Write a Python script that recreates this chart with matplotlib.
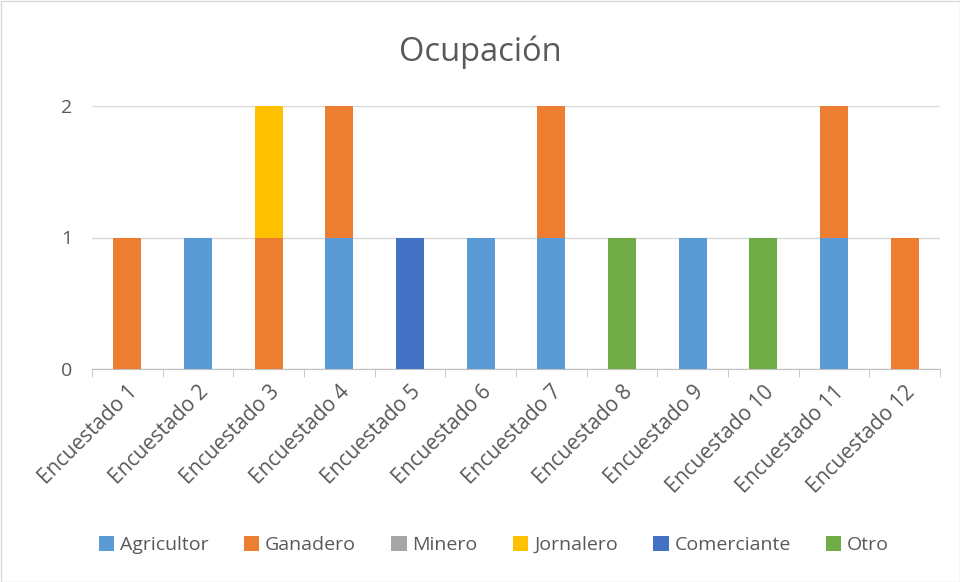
import numpy as np
import matplotlib.pyplot as plt
from matplotlib.patches import Rectangle

plt.rcParams['font.family'] = ['Open Sans', 'DejaVu Sans']

encuestados = ["Encuestado %d" % i for i in range(1, 13)]
agricultor = [0, 1, 0, 1, 0, 1, 1, 0, 1, 0, 1, 0]
ganadero = [1, 0, 1, 1, 0, 0, 1, 0, 0, 0, 1, 1]
minero = [0, 0, 0, 0, 0, 0, 0, 0, 0, 0, 0, 0]
jornalero = [0, 0, 1, 0, 0, 0, 0, 0, 0, 0, 0, 0]
comerciante = [0, 0, 0, 0, 1, 0, 0, 0, 0, 0, 0, 0]
otro = [0, 0, 0, 0, 0, 0, 0, 1, 0, 1, 0, 0]

series = [("Agricultor", agricultor, "#5B9BD5"),
          ("Ganadero", ganadero, "#ED7D31"),
          ("Minero", minero, "#A5A5A5"),
          ("Jornalero", jornalero, "#FFC000"),
          ("Comerciante", comerciante, "#4472C4"),
          ("Otro", otro, "#70AD47")]

fig = plt.figure(figsize=(9.6, 5.82), dpi=100)
ax = fig.add_axes([92/960, 1 - 369/582, 848/960, 263/582])

x = np.arange(len(encuestados))
bottom = np.zeros(len(x))
for nombre, vals, color in series:
    ax.bar(x, vals, width=0.4, bottom=bottom, color=color, label=nombre, zorder=3)
    bottom += np.array(vals)

ax.set_xlim(-0.5, len(x) - 0.5)
ax.set_ylim(0, 2)
ax.set_yticks([0, 1, 2])
ax.yaxis.grid(True, color="#D9D9D9", linewidth=1, zorder=0)
for s in ["top", "right", "left"]:
    ax.spines[s].set_visible(False)
ax.spines["bottom"].set_color("#BFBFBF")
ax.tick_params(axis="y", length=0, labelsize=14, labelcolor="#595959", pad=14)

ax.set_xticks(x)
ax.set_xticklabels(encuestados, rotation=45, ha="right", rotation_mode="anchor",
                   fontsize=15, color="#595959")
ax.tick_params(axis="x", length=0, pad=9)
ax.set_xticks(np.arange(-0.5, len(x)), minor=True)
ax.tick_params(axis="x", which="minor", length=6, color="#BFBFBF")

fig.text(0.5, 1 - 52/582, "Ocupación", ha="center", va="center", fontsize=23.5, color="#595959")

fig.legend(loc="center", bbox_to_anchor=(494/960, 1 - 545/582), ncol=6, frameon=False,
           fontsize=14, handlelength=0.8, handleheight=0.8, handletextpad=0.3,
           columnspacing=1.8, labelcolor="#595959")

fig.patches.append(Rectangle((0.5/960, 0.5/582), 1 - 1/960, 1 - 1/582, transform=fig.transFigure,
                             fill=False, edgecolor="#D9D9D9", linewidth=1))

fig.savefig("out.png", dpi=100)
